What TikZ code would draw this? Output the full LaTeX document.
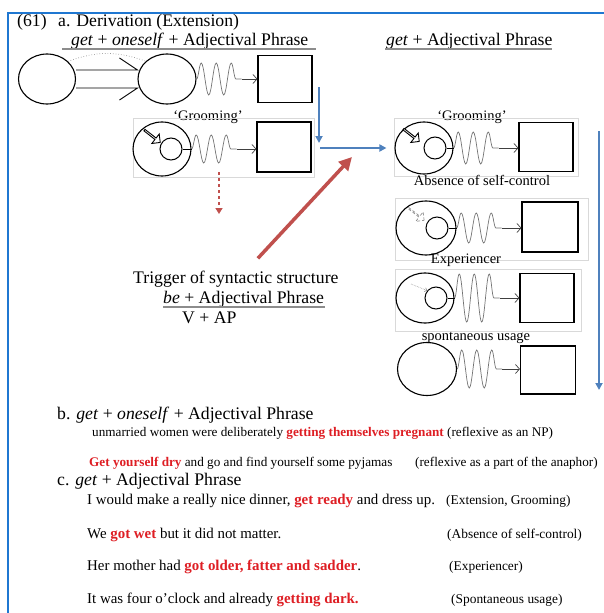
\documentclass[tikz,border=0pt]{standalone}
\usepackage{fontspec}
\setmainfont{Liberation Serif}
\usetikzlibrary{arrows.meta,shapes.geometric,shapes.arrows,decorations.pathmorphing}
\definecolor{frameblue}{RGB}{31,119,209}
\definecolor{flowblue}{RGB}{79,129,189}
\definecolor{flowred}{RGB}{192,80,77}
\definecolor{hotred}{RGB}{222,30,36}
\newcommand{\hl}[1]{\textcolor{hotred}{\textbf{#1}}}
\newcommand{\fsz}[1]{\fontsize{#1}{#1}\selectfont}
\begin{document}
\begin{tikzpicture}[x=1pt,y=-1pt,
  selfring/.style={draw,ellipse,line width=1.1pt,inner sep=0pt},
  core/.style={draw,circle,line width=1pt,minimum size=22pt,inner sep=0pt},
  goalbox/.style={draw,rectangle,line width=1.1pt,inner sep=0pt},
  wavy/.style={draw=black!55,line width=0.7pt,decorate,decoration={snake,segment length=15pt,amplitude=#1}},
  wavy/.default=15pt,
  tipline/.style={black!75,line width=0.7pt,-{Straight Barb[length=4pt,width=9pt]}},
  hollow/.style={draw,fill=white,line width=0.9pt,single arrow,inner sep=0pt,minimum height=20pt,
    minimum width=12pt,single arrow head extend=2.5pt,rotate=-38},
  panel/.style={draw=black!15,line width=0.6pt},
  uline/.style={black!45,line width=1.3pt},
  blueway/.style={flowblue,line width=2pt,-{Triangle[length=7pt,width=7pt]}},
  redway/.style={flowred,line width=3.5pt,-{Triangle[length=13pt,width=13pt]}},
  head/.style={anchor=base west,inner sep=0pt,font=\fsz{17.7}},
  lab/.style={anchor=base,inner sep=0pt,font=\fsz{14.5}},
  bsent/.style={anchor=base west,inner sep=0pt,font=\fsz{13.2}},
  csent/.style={anchor=base west,inner sep=0pt,font=\fsz{14.9}},
  gloss/.style={anchor=base west,inner sep=0pt,font=\fsz{13.4}}]
  \useasboundingbox (0,0) rectangle (603,613);
  \draw[frameblue,line width=1.6pt] (8,13) rectangle (660,660);

  \node[head] (hd61) at (17,26) {(61)\hspace{0.65em}a. Derivation (Extension)};
  \node[head] (hdL) at (71,45) {\textit{get} + \textit{oneself} + Adjectival Phrase};
  \node[head] (hdR) at (386,45) {\textit{get} + Adjectival Phrase};
  \draw[uline] (62,49) -- (316,49);
  \draw[uline] (385,49) -- (552,49);

  \node[selfring,minimum width=57pt,minimum height=50pt] (c1) at (47,79) {};
  \node[selfring,minimum width=58pt,minimum height=50pt] (c2) at (167,79) {};
  \node[goalbox,minimum width=54pt,minimum height=47pt] (bT) at (285,79) {};
  \draw[line width=0.9pt] ([yshift=9pt]c1.east) -- ([yshift=9pt]c2.west) -- ++(-18,-12);
  \draw[line width=0.9pt] ([yshift=-9pt]c1.east) -- ([yshift=-9pt]c2.west) -- ++(-18,12);
  \draw[black!40,dotted,line width=0.7pt] (c1.40) to[bend left=20] (c2.140);
  \draw[wavy=16pt] (c2.east) -- ++(45,0) coordinate (wT);
  \draw[tipline] (wT) -- (bT.west);

  \node[lab] (grL) at (208,120) {‘Grooming’};
  \draw[panel] (133,118) rectangle (314,177);
  \node[selfring,minimum width=58pt,minimum height=54pt] (cL) at (162,149) {};
  \node[core] (iL) at (171,149) {};
  \node[goalbox,minimum width=54pt,minimum height=50pt] (bL) at (284,147) {};
  \node[hollow] (arrL) at (152,136) {};
  \draw[line width=1pt] (iL.east) -- (cL.east);
  \draw[wavy=14pt] (cL.east) -- ++(45,0) coordinate (wL);
  \draw[tipline] (wL) -- (bL.west |- wL);

  \node[lab] (grR) at (472,120) {‘Grooming’};
  \draw[panel] (394,118) rectangle (578,176);
  \node[selfring,minimum width=58pt,minimum height=52pt] (cA) at (424,148) {};
  \node[core] (iA) at (435,148) {};
  \node[goalbox,minimum width=54pt,minimum height=49pt] (bA) at (546,147) {};
  \node[hollow] (arrA) at (411,135) {};
  \draw[line width=1pt] (iA.east) -- (cA.east);
  \draw[wavy=16pt] (cA.east) -- ++(45,0) coordinate (wA);
  \draw[tipline] (wA) -- (bA.west |- wA);

  \node[lab] (absence) at (482,185) {Absence of self-control};
  \draw[panel] (395,198) rectangle (588,260);
  \node[selfring,minimum width=60pt,minimum height=54pt] (cB) at (426,228) {};
  \node[core] (iB) at (437,228) {};
  \node[goalbox,minimum width=56pt,minimum height=50pt] (bB) at (550,227) {};
  \node[hollow,draw=black!50,densely dashed,line width=0.6pt] (arrB) at (416,214) {};
  \draw[line width=1pt] (iB.east) -- (cB.east);
  \draw[wavy=15pt] (cB.east) -- ++(45,0) coordinate (wB);
  \draw[tipline] (wB) -- (bB.west |- wB);

  \node[lab] (exper) at (466,263) {Experiencer};
  \draw[panel] (395,269) rectangle (581,331);
  \node[selfring,minimum width=58pt,minimum height=50pt] (cC) at (425,298) {};
  \node[core] (iC) at (436,298) {};
  \node[goalbox,minimum width=54pt,minimum height=49pt] (bC) at (547,298) {};
  \draw[black!45,densely dotted,line width=0.6pt,-{Straight Barb[length=2pt,width=4pt]}] (411,284) -- (iC.140);
  \draw[line width=1pt] (iC.east) -- (cC.east);
  \draw[wavy=24pt] (cC.east) -- ++(45,0) coordinate (wC);
  \draw[tipline] (wC) -- (bC.west);

  \node[lab] (spont) at (476,340) {spontaneous usage};
  \node[selfring,minimum width=59pt,minimum height=53pt] (cD) at (427,369) {};
  \node[goalbox,minimum width=55pt,minimum height=48pt] (bD) at (548,370) {};
  \draw[wavy=19pt] (cD.east) -- ++(45,0) coordinate (wD);
  \draw[tipline] (wD) -- (bD.west |- wD);

  \coordinate (bluetop) at (319,87);
  \coordinate (bluedown) at (319,143);
  \coordinate (blueknee) at (320,148);
  \draw[blueway] (bluetop) -- (bluedown);
  \draw[blueway] (blueknee) -- ([xshift=-8pt]cA.west);
  \coordinate (longtop) at (599,131);
  \coordinate (longend) at (599,390);
  \draw[blueway] (longtop) -- (longend);

  \node[head] (trig) at (133,283) {Trigger of syntactic structure};
  \node[head] (beap) at (163,303) {\textit{be} + Adjectival Phrase};
  \node[head] (vap) at (182,323) {V + AP};
  \draw[uline] (163,307) -- (325,307);
  \coordinate (redtip) at (352,157);
  \draw[redway] ([xshift=22pt,yshift=12pt]trig.north) -- (redtip);
  \coordinate (dropstart) at (219,172);
  \coordinate (dropend) at (219,214);
  \draw[flowred,line width=2pt,dashed,-{Triangle[length=6pt,width=7pt]}] (dropstart) -- (dropend);

  \node[head] (partb) at (57,419) {b. \textit{get} + \textit{oneself} + Adjectival Phrase};
  \node[bsent] (sb1) at (92,436) {unmarried women were deliberately \hl{getting themselves pregnant} (reflexive as an NP)};
  \node[bsent] (sb2) at (89,466) {\hl{Get yourself dry} and go and find yourself some pyjamas};
  \node[bsent] (sb2g) at (415,466) {(reflexive as a part of the anaphor)};
  \node[head] (partc) at (57,485) {c. \textit{get} + Adjectival Phrase};
  \foreach \rowy/\glossx/\sentence/\glosstext in {
    504/446/{I would make a really nice dinner, \hl{get ready} and dress up.}/{(Extension, Grooming)},
    538/447/{We \hl{got wet} but it did not matter.}/{(Absence of self-control)},
    570/449/{Her mother had \hl{got older, fatter and sadder}.}/{(Experiencer)},
    603/451/{It was four o’clock and already \hl{getting dark.}}/{(Spontaneous usage)}}{
    \node[csent] (sent\rowy) at (87,\rowy) {\sentence};
    \node[gloss] (gloss\rowy) at (\glossx,\rowy) {\glosstext};
  }
\end{tikzpicture}
\end{document}
